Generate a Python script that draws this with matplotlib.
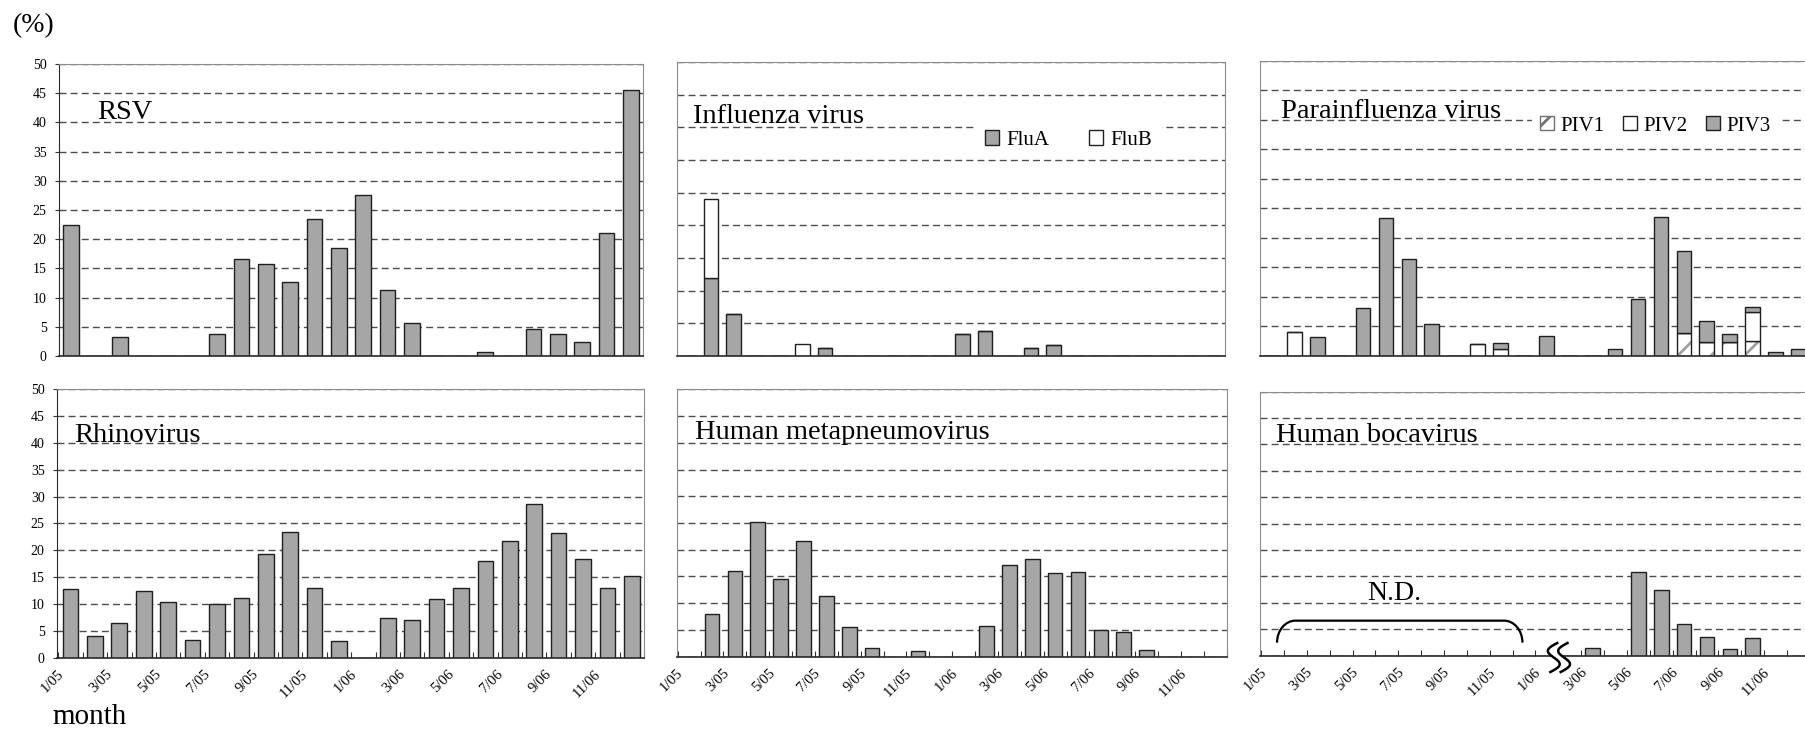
import numpy as np
import matplotlib
matplotlib.use('Agg')
import matplotlib.pyplot as plt
from matplotlib.patches import Patch, PathPatch
from matplotlib.path import Path

plt.rcParams['font.family'] = ['Liberation Serif', 'DejaVu Serif']
plt.rcParams['hatch.linewidth'] = 2.0

#### D A T A (percent positive per month, 1/05 .. 12/06) ####

tick_labels = ['1/05', '3/05', '5/05', '7/05', '9/05', '11/05',
               '1/06', '3/06', '5/06', '7/06', '9/06', '11/06']

rsv = [22.5, 0, 3.3, 0, 0, 0, 3.8, 16.6, 15.7, 12.7, 23.5, 18.5,
       27.5, 11.3, 5.7, 0, 0, 0.6, 0, 4.6, 3.7, 2.4, 21.0, 45.5]

flu_a = [0, 11.9, 6.4, 0, 0, 0, 1.2, 0, 0, 0, 0, 0,
         3.4, 3.8, 0, 1.2, 1.7, 0, 0, 0, 0, 0, 0, 0]
flu_b = [0, 12.1, 0, 0, 0, 1.8, 0, 0, 0, 0, 0, 0,
         0, 0, 0, 0, 0, 0, 0, 0, 0, 0, 0, 0]

piv1 = [0, 0, 0, 0, 0, 0, 0, 0, 0, 0, 0, 0,
        0, 0, 0, 0, 0, 0, 3.9, 2.3, 2.3, 2.5, 0, 0]
piv2 = [0, 4.0, 0, 0, 0, 0, 0, 0, 0, 2.0, 1.1, 0,
        0, 0, 0, 0, 0, 0, 0, 0, 0, 4.9, 0, 0]
piv3 = [0, 0, 3.2, 0, 8.2, 23.3, 16.4, 5.5, 0, 0, 1.1, 0,
        3.4, 0, 0, 1.2, 9.6, 23.6, 13.9, 3.6, 1.4, 0.9, 0.7, 1.2]

rhino = [12.9, 4.0, 6.5, 12.5, 10.4, 3.3, 10.1, 11.1, 19.3, 23.4, 13.0, 3.1,
         0, 7.5, 7.1, 11.0, 13.0, 18.0, 21.8, 28.7, 23.2, 18.4, 13.1, 15.3]

hmpv = [0, 8.0, 16.1, 25.1, 14.6, 21.6, 11.3, 5.5, 1.7, 0, 1.1, 0,
        0, 5.7, 17.1, 18.2, 15.6, 15.8, 5.0, 4.7, 1.2, 0, 0, 0]

# 2005 not determined for bocavirus
boca = [0, 0, 0, 0, 0, 0, 0, 0, 0, 0, 0, 0,
        0, 0, 1.5, 0, 15.8, 12.4, 6.0, 3.6, 1.3, 3.3, 0, 0]

x = np.arange(len(rsv))
GRAY = '#a6a6a6'
EDGE = '#1f1f1f'
BW = 0.64


def style(ax, ymax, ylabels, xlabels):
    ax.set_xlim(-0.5, 23.5)
    ax.set_ylim(0, ymax)
    ax.set_axisbelow(True)
    ax.set_yticks(np.arange(0, ymax + 1, 5))
    ax.yaxis.grid(True, linestyle=(0, (5, 3)), color='#4d4d4d', lw=1)
    for s in ['top', 'right', 'left']:
        ax.spines[s].set_color('#8c8c8c')
    ax.spines['bottom'].set_color('#2a2a2a')
    ax.spines['bottom'].set_linewidth(1.2)
    if ylabels:
        ax.spines['left'].set_color('#2a2a2a')
        ax.tick_params(axis='y', labelsize=10, length=3, pad=6, color='#333333')
    else:
        ax.tick_params(axis='y', length=0, labelleft=False)
    if xlabels:
        ax.set_xticks(np.arange(-0.5, 24, 1))
        ax.tick_params(axis='x', which='major', direction='in', length=4,
                       labelbottom=False, color='#333333')
        ax.set_xticks(np.arange(0, 24, 2) - 0.55, minor=True)
        ax.set_xticklabels(tick_labels, minor=True, rotation=45, ha='right',
                           rotation_mode='anchor', fontsize=10.5)
        ax.tick_params(axis='x', which='minor', length=0, pad=7)
    else:
        ax.set_xticks([])


fig = plt.figure(figsize=(18.06, 7.29), dpi=100)
ax_rsv = fig.add_axes([0.0327, 0.5117, 0.3234, 0.4005])
ax_flu = fig.add_axes([0.3746, 0.5117, 0.3038, 0.4033])
ax_piv = fig.add_axes([0.6976, 0.5117, 0.3046, 0.4047])
ax_rhv = fig.add_axes([0.0316, 0.0974, 0.3250, 0.3690])
ax_mpv = fig.add_axes([0.3746, 0.0992, 0.3046, 0.3668])
ax_boc = fig.add_axes([0.6976, 0.1006, 0.3046, 0.3621])

# R S V
style(ax_rsv, 50, True, False)
ax_rsv.bar(x, rsv, BW, color=GRAY, edgecolor=EDGE, lw=1)
ax_rsv.text(0.065, 0.812, 'RSV', transform=ax_rsv.transAxes, fontsize=20.5, va='baseline')

# I N F L U E N Z A
style(ax_flu, 45, False, False)
ax_flu.bar(x, flu_a, BW, color=GRAY, edgecolor=EDGE, lw=1)
ax_flu.bar(x, flu_b, BW, bottom=flu_a, color='white', edgecolor=EDGE, lw=1)
ax_flu.text(0.030, 0.792, 'Influenza virus', transform=ax_flu.transAxes, fontsize=20.5, va='baseline')
flu_handles = [Patch(facecolor=GRAY, edgecolor=EDGE, label='FluA'),
               Patch(facecolor='white', edgecolor=EDGE, label='FluB')]
ax_flu.legend(handles=flu_handles, loc='center', bbox_to_anchor=(0.715, 0.734), ncol=2,
              fontsize=15, frameon=True, fancybox=False, edgecolor='white', facecolor='white',
              framealpha=1, handlelength=0.67, handleheight=0.67, handletextpad=0.35,
              columnspacing=1.9, borderpad=0.4, borderaxespad=0)

# P A R A I N F L U E N Z A
style(ax_piv, 50, False, False)
bottom2 = np.array(piv1)
bottom3 = bottom2 + np.array(piv2)
ax_piv.bar(x, piv1, BW, color='white', edgecolor='#a0a0a0', hatch='/', lw=0)
ax_piv.bar(x, piv1, BW, fill=False, edgecolor=EDGE, lw=1)
ax_piv.bar(x, piv2, BW, bottom=bottom2, color='white', edgecolor=EDGE, lw=1)
ax_piv.bar(x, piv3, BW, bottom=bottom3, color=GRAY, edgecolor=EDGE, lw=1)
ax_piv.text(0.039, 0.807, 'Parainfluenza virus', transform=ax_piv.transAxes, fontsize=20.5, va='baseline')
piv_handles = [Patch(facecolor='white', edgecolor='#707070', hatch='/', label='PIV1'),
               Patch(facecolor='white', edgecolor=EDGE, label='PIV2'),
               Patch(facecolor=GRAY, edgecolor=EDGE, label='PIV3')]
ax_piv.legend(handles=piv_handles, loc='center', bbox_to_anchor=(0.719, 0.78), ncol=3,
              fontsize=15, frameon=True, fancybox=False, edgecolor='white', facecolor='white',
              framealpha=1, handlelength=0.67, handleheight=0.67, handletextpad=0.3,
              columnspacing=0.9, borderpad=0.4, borderaxespad=0)

# R H I N O V I R U S
style(ax_rhv, 50, True, True)
ax_rhv.bar(x, rhino, BW, color=GRAY, edgecolor=EDGE, lw=1)
ax_rhv.text(0.029, 0.803, 'Rhinovirus', transform=ax_rhv.transAxes, fontsize=20.5, va='baseline')

# H U M A N _ M E T A P N E U M O V I R U S
style(ax_mpv, 50, False, True)
ax_mpv.bar(x, hmpv, BW, color=GRAY, edgecolor=EDGE, lw=1)
ax_mpv.text(0.033, 0.814, 'Human metapneumovirus', transform=ax_mpv.transAxes, fontsize=20.5, va='baseline')

# H U M A N _ B O C A V I R U S
style(ax_boc, 50, False, True)
ax_boc.bar(x, boca, BW, color=GRAY, edgecolor=EDGE, lw=1)
ax_boc.text(0.029, 0.808, 'Human bocavirus', transform=ax_boc.transAxes, fontsize=20.5, va='baseline')

# bracket over the not-determined months
x0, x1, yb, yt, rx, ry = 0.2, 10.93, 2.46, 6.63, 0.8, 4.17
k = 0.55
verts = [(x0, yb), (x0, yb + k * ry), (x0 + rx - k * rx, yt), (x0 + rx, yt),
         (x1 - rx, yt),
         (x1 - rx + k * rx, yt), (x1, yb + k * ry), (x1, yb)]
codes = [Path.MOVETO, Path.CURVE4, Path.CURVE4, Path.CURVE4, Path.LINETO,
         Path.CURVE4, Path.CURVE4, Path.CURVE4]
ax_boc.add_patch(PathPatch(Path(verts, codes), fill=False, lw=1.6, edgecolor='black'))
ax_boc.text(5.31, 10.55, 'N.D.', fontsize=20, ha='center', va='baseline')

# axis break mark
t = np.linspace(0, 1, 60)
yy = 2.4 - t * 5.5
s1 = 12.3 - 0.33 * np.sin(2 * np.pi * t) + 0.3 * (0.5 - t)
s2 = 12.75 - 0.33 * np.sin(2 * np.pi * t) + 0.3 * (0.5 - t)
ax_boc.fill_betweenx(yy, s1, s2, color='white', zorder=3, clip_on=False, lw=0)
ax_boc.plot(s1, yy, color='black', lw=1.8, zorder=4, clip_on=False)
ax_boc.plot(s2, yy, color='black', lw=1.8, zorder=4, clip_on=False)

fig.text(0.0072, 1 - 26 / 729, '(%)', fontsize=20, ha='left', va='center')
fig.text(52 / 1806, 1 - 724 / 729, 'month', fontsize=21, ha='left', va='baseline')

plt.savefig('out.png', dpi=100)
